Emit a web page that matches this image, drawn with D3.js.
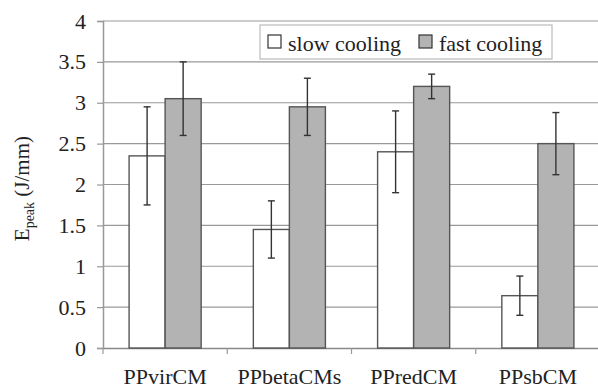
<!DOCTYPE html>
<html>
<head>
<meta charset="utf-8">
<script src="https://cdn.jsdelivr.net/npm/d3@7"></script>
<style>
  body { margin: 0; background: #fff; }
  svg text { font-family: "Liberation Serif", "Times New Roman", Times, "DejaVu Serif", serif; fill: #222; }
</style>
</head>
<body>
<div id="chart"></div>
<script>
/*global d3 */

var categories = ["PPvirCM", "PPbetaCMs", "PPredCM", "PPsbCM"];
var seriesNames = ["slow cooling", "fast cooling"];
var slowValues = [2.35, 1.45, 2.4, 0.64];
var slowErrors = [0.6, 0.35, 0.5, 0.24];
var fastValues = [3.05, 2.95, 3.2, 2.5];
var fastErrors = [0.45, 0.35, 0.15, 0.38];
var yTicks = [0, 0.5, 1, 1.5, 2, 2.5, 3, 3.5, 4];

(function () {
    "use strict";

    var ch = {w: 598, h: 390},
        margin = {top: 21, right: -2, bottom: 42, left: 103},
        width = ch.w - margin.left - margin.right,
        height = ch.h - margin.top - margin.bottom,
        serif = "'Liberation Serif', 'Times New Roman', Times, 'DejaVu Serif', serif",
        fills = {"slow cooling": "#ffffff", "fast cooling": "#b3b3b3"},
        svg, g, x, x1, y, rows, eb, lg, li, yt;

    //flatten into one row per bar
    rows = [];
    categories.forEach(function (c, i) {
        rows.push({cat: c, s: seriesNames[0], v: slowValues[i], e: slowErrors[i]});
        rows.push({cat: c, s: seriesNames[1], v: fastValues[i], e: fastErrors[i]});
    });

    svg = d3.select("#chart").append("svg")
        .attr("width", ch.w)
        .attr("height", ch.h)
        .attr("font-family", serif);
    g = svg.append("g")
        .attr("transform", "translate(" + margin.left + "," + margin.top + ")");

    x = d3.scaleBand().domain(categories).range([0, width]);
    x1 = d3.scaleBand().domain(seriesNames)
        .range([x.bandwidth() * 0.21, x.bandwidth() * 0.79]);
    y = d3.scaleLinear().domain([0, 4]).range([height, 0]);

    //gridlines
    g.selectAll("line.grid")
        .data(yTicks.slice(1))
        .enter().append("line")
        .attr("class", "grid")
        .attr("x1", 0).attr("x2", width)
        .attr("y1", function (d) { return y(d); })
        .attr("y2", function (d) { return y(d); })
        .attr("stroke", "#999")
        .attr("stroke-width", 1.2);

    //y axis
    g.append("g")
        .call(d3.axisLeft(y).tickValues(yTicks).tickSize(6).tickPadding(11)
              .tickFormat(d3.format("")))
        .attr("font-family", serif)
        .call(function (a) {
            a.select(".domain").attr("stroke", "#999").attr("stroke-width", 1.5);
            a.selectAll(".tick line").attr("stroke", "#999").attr("stroke-width", 1.2);
            a.selectAll(".tick text").attr("font-size", 22)
                .attr("fill", "#222");
        });

    //x axis, ticks at category boundaries
    g.append("g")
        .attr("transform", "translate(0," + height + ")")
        .call(d3.axisBottom(x).tickSize(0).tickPadding(20))
        .attr("font-family", serif)
        .call(function (a) {
            a.select(".domain").attr("stroke", "#888").attr("stroke-width", 1.5);
            a.selectAll(".tick text").attr("font-size", 22)
                .attr("fill", "#222");
        });
    g.selectAll("line.xtick")
        .data(categories)
        .enter().append("line")
        .attr("class", "xtick")
        .attr("x1", function (d) { return x(d); })
        .attr("x2", function (d) { return x(d); })
        .attr("y1", height).attr("y2", height + 6)
        .attr("stroke", "#999")
        .attr("stroke-width", 1.2);

    //bars
    g.selectAll("rect.bar")
        .data(rows)
        .enter().append("rect")
        .attr("class", "bar")
        .attr("x", function (d) { return x(d.cat) + x1(d.s); })
        .attr("y", function (d) { return y(d.v); })
        .attr("width", x1.bandwidth())
        .attr("height", function (d) { return y(0) - y(d.v); })
        .attr("fill", function (d) { return fills[d.s]; })
        .attr("stroke", "#555")
        .attr("stroke-width", 1.4);

    //error bars
    eb = g.selectAll("g.err")
        .data(rows)
        .enter().append("g")
        .attr("class", "err")
        .attr("transform", function (d) {
            return "translate(" + (x(d.cat) + x1(d.s) + x1.bandwidth() / 2) + ",0)";
        });
    eb.append("line")
        .attr("y1", function (d) { return y(d.v + d.e); })
        .attr("y2", function (d) { return y(d.v - d.e); })
        .attr("stroke", "#333").attr("stroke-width", 1.4);
    eb.selectAll("line.cap")
        .data(function (d) { return [d.v + d.e, d.v - d.e]; })
        .enter().append("line")
        .attr("class", "cap")
        .attr("x1", -3.5).attr("x2", 3.5)
        .attr("y1", function (d) { return y(d); })
        .attr("y2", function (d) { return y(d); })
        .attr("stroke", "#333").attr("stroke-width", 1.4);

    //legend
    lg = svg.append("g").attr("transform", "translate(260,25)");
    lg.append("rect")
        .attr("width", 292).attr("height", 34)
        .attr("fill", "#fff")
        .attr("stroke", "#bbb").attr("stroke-width", 1.2);
    li = lg.selectAll("g.li")
        .data(seriesNames)
        .enter().append("g")
        .attr("class", "li")
        .attr("transform", function (d, i) { return "translate(" + (8 + i * 151) + ",0)"; });
    li.append("rect")
        .attr("y", 10).attr("width", 13).attr("height", 13)
        .attr("fill", function (d) { return fills[d]; })
        .attr("stroke", "#333").attr("stroke-width", 1.2);
    li.append("text")
        .attr("x", 20).attr("y", 26)
        .attr("font-size", 22)
        .text(function (d) { return d; });

    //y axis title
    yt = svg.append("text")
        .attr("transform", "translate(29," + (margin.top + y(1.95)) + ") rotate(-90)")
        .attr("text-anchor", "middle")
        .attr("font-size", 21);
    yt.append("tspan").text("E");
    yt.append("tspan").attr("font-size", 14).attr("dy", 5).text("peak");
    yt.append("tspan").attr("dy", -5).text(" (J/mm)");
}());
</script>
</body>
</html>
